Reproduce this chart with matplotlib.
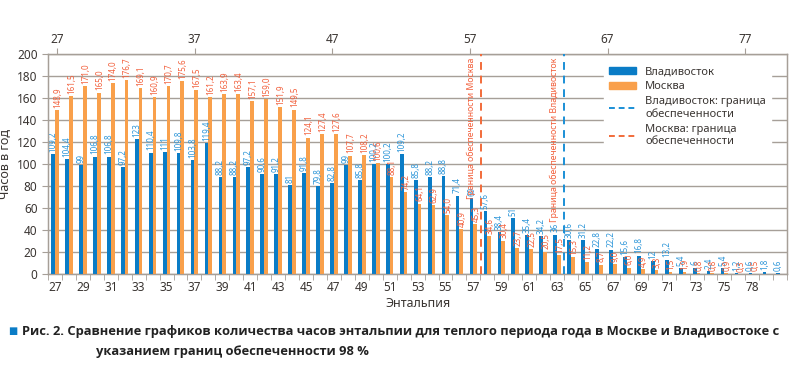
import numpy as np
import matplotlib
matplotlib.use('Agg')
import matplotlib.pyplot as plt
from matplotlib.patches import Patch
from matplotlib.lines import Line2D

plt.rcParams['font.family'] = ['Noto Sans', 'DejaVu Sans']

# данные
categories = [str(v) for v in range(27, 77)] + ['78', '79', '80']
vlad = [109.2, 104.4, 99, 106.8, 106.8, 97.2, 123, 110.4, 111, 109.8,
        103.8, 119.4, 88.2, 88.2, 97.2, 90.6, 91.2, 81, 91.8, 79.8,
        82.8, 99, 85.8, 100.2, 100.2, 109.2, 85.8, 88.2, 88.8, 71.4,
        69, 57.6, 38.4, 51, 35.4, 34.2, 36, 30.6, 31.2, 22.8,
        22.2, 15.6, 16.8, 12, 13.2, 5.4, 6.0, 2.4, 5.4, 1.2,
        0.6, 1.8, 0.6]
moscow = [148.9, 161.5, 171.0, 165.0, 174.0, 176.7, 169.1, 160.9, 170.7, 175.6,
          167.5, 161.2, 163.9, 163.4, 157.1, 159.0, 151.9, 149.5, 124.1, 127.4,
          127.6, 107.7, 108.2, 100.6, 88.1, 74.2, 64.1, 62.9, 54.0, 40.9,
          45.3, 34.6, 30.4, 23.7, 22.5, 20.5, 17.5, 15.3, 11.2, 8.7,
          9.0, 6.0, 4.9, 3.3, 1.5, 1.9, 0.8, 0.8, 0.9, 0.3,
          0.5, 0, 0]
top_ticks = [27, 37, 47, 57, 67, 77]
bound_moscow = 57.8
bound_vlad = 63.8

blue = '#0a7cc6'
orange = '#f9a04b'
blue_txt = '#2b95d8'
red_txt = '#f2603c'
grey = '#a69f98'
dark = '#3a3532'

fig = plt.figure(figsize=(8, 3.76), dpi=100)
ax = fig.add_axes([0.06, 0.271, 0.924, 0.585])

x = np.arange(len(categories))
w = 0.27
ax.bar(x - w / 2, vlad, width=w, color=blue, zorder=3)
ax.bar(x + w / 2, moscow, width=w, color=orange, zorder=3)

for xi, v in zip(x, vlad):
    ax.text(xi - w / 2, v + 2, ('%g' % v).replace('.', ','), rotation=90,
            ha='center', va='bottom', fontsize=5.8, color=blue_txt, zorder=4)
for xi, v in zip(x, moscow):
    if v > 0:
        ax.text(xi + w / 2 + 0.05, v + 2, ('%.1f' % v).replace('.', ','), rotation=90,
                ha='center', va='bottom', fontsize=5.8, color=red_txt, zorder=4)

ax.set_xlim(-0.5, len(categories) - 0.5)
ax.set_ylim(0, 200)
ax.set_yticks(range(0, 201, 20))
ax.grid(axis='y', color=grey, linewidth=1.0, zorder=0)
ax.set_xticks(x[::2])
labels = categories[::2]
labels[-1] = ''
ax.set_xticklabels(labels)
ax.set_xticks(np.arange(-0.5, len(categories), 1), minor=True)
ax.tick_params(axis='x', which='major', length=0, labelsize=8.5, colors=dark, pad=5)
ax.tick_params(axis='x', which='minor', length=4, color=grey)
ax.tick_params(axis='y', length=4, color=grey, labelsize=8.5, labelcolor=dark)
for s in ax.spines.values():
    s.set_color(grey)
    s.set_linewidth(1.0)
ax.set_ylabel('Часов в год', fontsize=9, color=dark, labelpad=4)
ax.set_xlabel('Энтальпия', fontsize=9, color=dark, labelpad=2)

# верхняя ось для границ
ax2 = ax.twiny()
ax2.set_xlim(26.35, 80.05)
ax2.set_ylim(0, 200)
ax2.set_xticks(top_ticks)
ax2.tick_params(axis='x', length=4, color=grey, labelsize=8.5, labelcolor=dark, pad=2)
for s in ax2.spines.values():
    s.set_color(grey)
ax2.axvline(bound_moscow, color='#f26b3a', linestyle=(0, (4, 3)), linewidth=1.4, zorder=5)
ax2.axvline(bound_vlad, color='#1a8fd6', linestyle=(0, (4, 3)), linewidth=1.4, zorder=5)
ax2.text(bound_moscow - 0.35, 197, 'Граница обеспеченности Москва', rotation=90,
         ha='right', va='top', fontsize=6.3, color=red_txt)
ax2.text(bound_vlad - 0.35, 197, 'Граница обеспеченности Владивосток', rotation=90,
         ha='right', va='top', fontsize=6.3, color=red_txt)

handles = [Patch(color=blue, label='Владивосток'),
           Patch(color=orange, label='Москва'),
           Line2D([], [], color='#1a8fd6', linestyle=(0, (3, 2)), lw=1.4,
                  label='Владивосток: граница\nобеспеченности'),
           Line2D([], [], color='#f26b3a', linestyle=(0, (3, 2)), lw=1.4,
                  label='Москва: граница\nобеспеченности')]
leg = ax2.legend(handles=handles, loc='upper right', bbox_to_anchor=(0.985, 0.99),
                 frameon=True, fontsize=8, handlelength=2.5, labelspacing=0.35,
                 borderpad=0.4, handleheight=0.6)
leg.get_frame().set_facecolor('white')
leg.get_frame().set_edgecolor('white')
leg.get_frame().set_alpha(1)
for t in leg.get_texts():
    t.set_color(dark)
leg.set_zorder(10)

# подпись
cap = dict(fontsize=9.3, fontweight='bold', color='#222222', va='center',
           family=['Open Sans', 'DejaVu Sans'])
fig.text(0.01, 0.118, '\u25a0', color=blue, fontsize=7, va='center')
fig.text(0.027, 0.118, 'Рис. 2. Сравнение графиков количества часов энтальпии для теплого периода года в Москве и Владивостоке с', **cap)
fig.text(0.12, 0.066, 'указанием границ обеспеченности 98 %', **cap)

fig.savefig('out.png', dpi=100)
